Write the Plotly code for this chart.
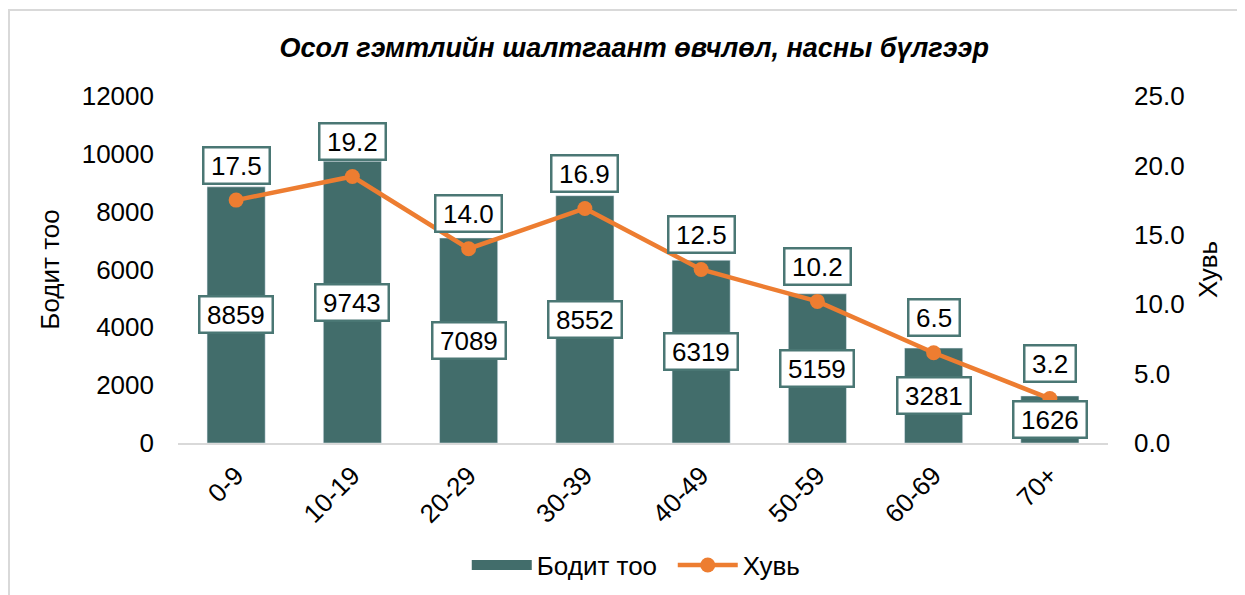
import plotly.graph_objects as go


# -------------------------------------------------------
# Data
# -------------------------------------------------------

age_groups = ["0-9", "10-19", "20-29", "30-39", "40-49", "50-59", "60-69", "70+"]

counts = [8859, 9743, 7089, 8552, 6319, 5159, 3281, 1626]

shares = [17.5, 19.2, 14.0, 16.9, 12.5, 10.2, 6.5, 3.2]

bar_color = "#426D6B"
line_color = "#ED7D31"
box_border = "#4A7774"
font_family = "Liberation Sans, Arial, sans-serif"


# rough text width for Arial-like digits, used to size the label boxes
def label_width(text, size=26):
    w = 0
    for ch in text:
        w += 0.278 if ch == "." else 0.556
    return w * size + 9


# -------------------------------------------------------
# Figure
# -------------------------------------------------------

fig = go.Figure()

fig.add_trace(
    go.Bar(
        x=age_groups,
        y=counts,
        name="Бодит тоо",
        marker_color=bar_color,
        width=0.5,
        showlegend=False,
        yaxis="y"
    )
)

# legend stand-in so the bar swatch is a wide block like the original
fig.add_trace(
    go.Scatter(
        x=[None],
        y=[None],
        name="Бодит тоо",
        mode="lines",
        line=dict(color=bar_color, width=15)
    )
)

fig.add_trace(
    go.Scatter(
        x=age_groups,
        y=shares,
        name="Хувь",
        mode="lines+markers",
        line=dict(color=line_color, width=4.5),
        marker=dict(color=line_color, size=15),
        yaxis="y2"
    )
)

# boxed data labels
annotations = []

for cat, v in zip(age_groups, counts):
    txt = str(v)
    annotations.append(
        dict(
            x=cat, y=v / 2, xref="x", yref="y",
            text=txt, showarrow=False,
            font=dict(size=26, color="black", family=font_family),
            width=label_width(txt), height=30,
            bgcolor="white", bordercolor=box_border,
            borderwidth=2.5, borderpad=2
        )
    )

for cat, v in zip(age_groups, shares):
    txt = f"{v:.1f}"
    annotations.append(
        dict(
            x=cat, y=v, xref="x", yref="y2",
            text=txt, showarrow=False, yshift=35,
            font=dict(size=26, color="black", family=font_family),
            width=label_width(txt), height=30,
            bgcolor="white", bordercolor=box_border,
            borderwidth=2.5, borderpad=2
        )
    )

fig.update_layout(
    width=1245,
    height=595,
    margin=dict(l=170, r=145, t=88, b=160),
    paper_bgcolor="white",
    plot_bgcolor="white",
    font=dict(family=font_family, size=26, color="black"),
    title=dict(
        text="<b><i>Осол гэмтлийн шалтгаант өвчлөл, насны бүлгээр</i></b>",
        x=0.503, xanchor="center",
        y=0.933, yanchor="middle",
        font=dict(size=27, color="black")
    ),
    xaxis=dict(
        tickangle=-45,
        tickfont=dict(size=26),
        ticklabelstandoff=5,
        showline=True, linecolor="#D9D9D9", linewidth=2,
        showgrid=False, ticks="",
        automargin=False
    ),
    yaxis=dict(
        range=[0, 12000],
        dtick=2000,
        tickformat="d",
        showgrid=False,
        zeroline=False,
        tickfont=dict(size=26),
        ticklabelstandoff=23,
        automargin=False,
        title=dict(text="Бодит тоо", font=dict(size=26), standoff=14)
    ),
    yaxis2=dict(
        range=[0, 25],
        dtick=5,
        tickformat=".1f",
        overlaying="y",
        side="right",
        showgrid=False,
        zeroline=False,
        tickfont=dict(size=26),
        ticklabelstandoff=25,
        automargin=False,
        title=dict(text="Хувь", font=dict(size=26), standoff=15)
    ),
    legend=dict(
        orientation="h",
        x=0.532, xanchor="center",
        y=-0.352, yanchor="middle",
        font=dict(size=26),
        itemwidth=60,
        entrywidth=131,
        entrywidthmode="pixels"
    ),
    annotations=annotations,
    shapes=[
        dict(
            type="rect", xref="paper", yref="paper",
            x0=(1 - 170) / 930, x1=(1244 - 170) / 930,
            y0=-1, y1=(435 - 2) / 347,
            line=dict(color="#D9D9D9", width=2),
            fillcolor="rgba(0,0,0,0)",
            layer="below"
        )
    ]
)

fig.write_html("out.html")
